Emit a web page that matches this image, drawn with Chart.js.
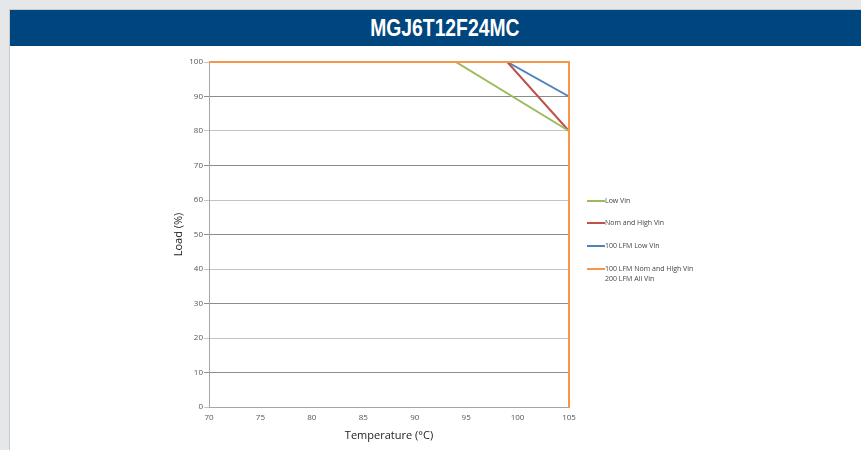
<!DOCTYPE html>
<html>
<head>
<meta charset="utf-8">
<script src="https://cdn.jsdelivr.net/npm/chart.js@4/dist/chart.umd.min.js"></script>
<style>
  html, body { margin:0; padding:0; }
  body { width:861px; height:450px; background:#e6e7e9; position:relative; overflow:hidden; font-family:"Open Sans", "DejaVu Sans", sans-serif; }
  #panel { position:absolute; left:9px; top:9px; width:852px; height:441px; background:#fff; border-left:1px solid #c9cacc; border-top:1px solid #c9cacc; }
  #titlebar { position:absolute; left:10px; top:10px; width:851px; height:36px; background:#00467e; color:#fff; text-align:center; font-family:"Liberation Sans", Arial, sans-serif; font-weight:bold; font-size:23px; line-height:36px; }
  #titlebar span { display:inline-block; transform:scaleX(0.84); transform-origin:center; margin-left:18px; }
  #wrap { position:absolute; left:0; top:46px; width:600px; height:404px; }
  #legend { position:absolute; left:587px; top:196px; font-family:"Open Sans", sans-serif; font-size:7px; color:#444; }
  .item { position:absolute; left:0; white-space:nowrap; }
  .sw { position:absolute; left:0; width:18px; height:2px; }
  .tx { position:absolute; left:18px; line-height:10px; }
</style>
</head>
<body>
<div id="panel"></div>
<div id="titlebar"><span>MGJ6T12F24MC</span></div>
<div id="wrap"><canvas id="c"></canvas></div>
<div id="legend"></div>
<script>
// Data
const seriesNames = ["100 LFM Nom and High Vin\n200 LFM All Vin", "Low Vin", "Nom and High Vin", "100 LFM Low Vin"];
const legendOrder = ["Low Vin", "Nom and High Vin", "100 LFM Low Vin", "100 LFM Nom and High Vin\n200 LFM All Vin"];
const tempLowVin = [70, 94, 105];
const loadLowVin = [100, 100, 80];
const tempNomHighVin = [70, 99, 105];
const loadNomHighVin = [100, 100, 80];
const temp100LowVin = [70, 99, 105];
const load100LowVin = [100, 100, 90];
const temp100Nom200All = [70, 105, 105];
const load100Nom200All = [100, 100, 0];
const xTicks = [70, 75, 80, 85, 90, 95, 100, 105];
const yTicks = [0, 10, 20, 30, 40, 50, 60, 70, 80, 90, 100];

const colors = {
  "Low Vin": "#9bbb59",
  "Nom and High Vin": "#c0504d",
  "100 LFM Low Vin": "#4f81bd",
  "100 LFM Nom and High Vin\n200 LFM All Vin": "#f79646"
};
function pts(xs, ys) { return xs.map((x, i) => ({ x: x, y: ys[i] })); }
const dataMap = {
  "Low Vin": pts(tempLowVin, loadLowVin),
  "Nom and High Vin": pts(tempNomHighVin, loadNomHighVin),
  "100 LFM Low Vin": pts(temp100LowVin, load100LowVin),
  "100 LFM Nom and High Vin\n200 LFM All Vin": pts(temp100Nom200All, load100Nom200All)
};

const datasets = seriesNames.map(n => ({
  label: n,
  data: dataMap[n],
  borderColor: colors[n],
  backgroundColor: colors[n],
  borderWidth: 2,
  pointRadius: 0,
  fill: false,
  tension: 0,
  clip: false
}));

new Chart(document.getElementById('c'), {
  type: 'line',
  data: { datasets: datasets },
  options: {
    responsive: true,
    maintainAspectRatio: false,
    animation: false,
    layout: { padding: { left: 170, right: 31, top: 16, bottom: 8 } },
    plugins: { legend: { display: false }, tooltip: { enabled: false } },
    scales: {
      x: {
        type: 'linear',
        min: 70, max: 105,
        afterBuildTicks: s => { s.ticks = xTicks.map(v => ({ value: v })); },
        afterFit: s => { s.height = 35; },
        grid: { display: false, drawOnChartArea: false, drawTicks: true, tickLength: 4, color: '#a6a6a6' },
        border: { display: true, color: '#a6a6a6', width: 1 },
        ticks: { color: '#555', font: { family: 'Open Sans', size: 8 }, padding: 2, maxRotation: 0 },
        title: { display: true, text: 'Temperature (°C)', color: '#222', font: { family: 'Open Sans', size: 11 }, padding: { top: 2, bottom: 0 } }
      },
      y: {
        min: 0, max: 100,
        afterBuildTicks: s => { s.ticks = yTicks.map(v => ({ value: v })); },
        afterFit: s => { s.width = 39; },
        grid: { color: ctx => (ctx.tick && ctx.tick.value % 20 === 0 ? '#c4c4c4' : '#8c8c8c'), lineWidth: 1, tickLength: 5, drawTicks: true },
        border: { display: true, color: '#a6a6a6', width: 1 },
        ticks: { color: '#555', font: { family: 'Open Sans', size: 8 }, padding: 1 },
        title: { display: true, text: 'Load (%)', color: '#222', font: { family: 'Open Sans', size: 11 }, padding: { top: 2, bottom: 0 } }
      }
    }
  }
});

// HTML legend
const legend = document.getElementById('legend');
const tops = [0, 22, 45, 68];
legendOrder.forEach((n, i) => {
  const it = document.createElement('div');
  it.className = 'item';
  it.style.top = tops[i] + 'px';
  const sw = document.createElement('div');
  sw.className = 'sw';
  sw.style.background = colors[n];
  sw.style.top = '4px';
  const tx = document.createElement('div');
  tx.className = 'tx';
  tx.innerHTML = n.split('\n').join('<br>');
  it.appendChild(sw); it.appendChild(tx);
  legend.appendChild(it);
});
</script>
</body>
</html>
